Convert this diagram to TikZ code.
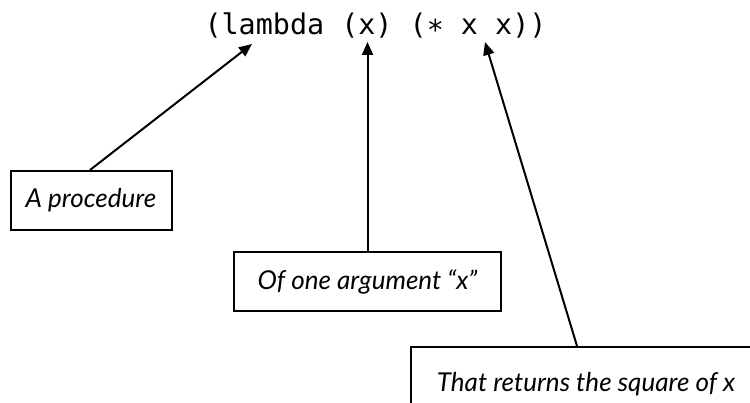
\documentclass[tikz,border=0pt]{standalone}
\usepackage{fontspec}
\setmainfont{Lato}
\setmonofont{DejaVu Sans Mono}
\usetikzlibrary{arrows.meta}
\begin{document}
\begin{tikzpicture}[x=1pt,y=-1pt,
  note/.style={draw,line width=2pt,inner sep=0pt,font=\fontsize{26}{30}\selectfont\itshape},
  pointer/.style={line width=2pt,-{Triangle[length=13pt,width=11pt]}}]
\useasboundingbox (0,0) rectangle (750,403);
\node[font=\fontsize{28.4}{32}\selectfont\ttfamily,anchor=base] (code) at (375.5,35) {(lambda (x) (∗ x x))};
\coordinate (t1) at (252,44);
\coordinate (t2) at (367.5,42);
\coordinate (t3) at (485,42);
\node[note,minimum width=161pt,minimum height=59pt] (b1) at (91,200.5) {A procedure};
\node[note,minimum width=267pt,minimum height=59pt] (b2) at (367.5,281.5) {Of one argument “x”};
\node[note,minimum width=350pt,minimum height=74pt] (b3) at (586,384) {That returns the square of x};
\draw[pointer] (b1.north -| 90,0) -- (t1);
\draw[pointer] (b2.north) -- (t2);
\draw[pointer] (b3.north -| 577,0) -- (t3);
\end{tikzpicture}
\end{document}
